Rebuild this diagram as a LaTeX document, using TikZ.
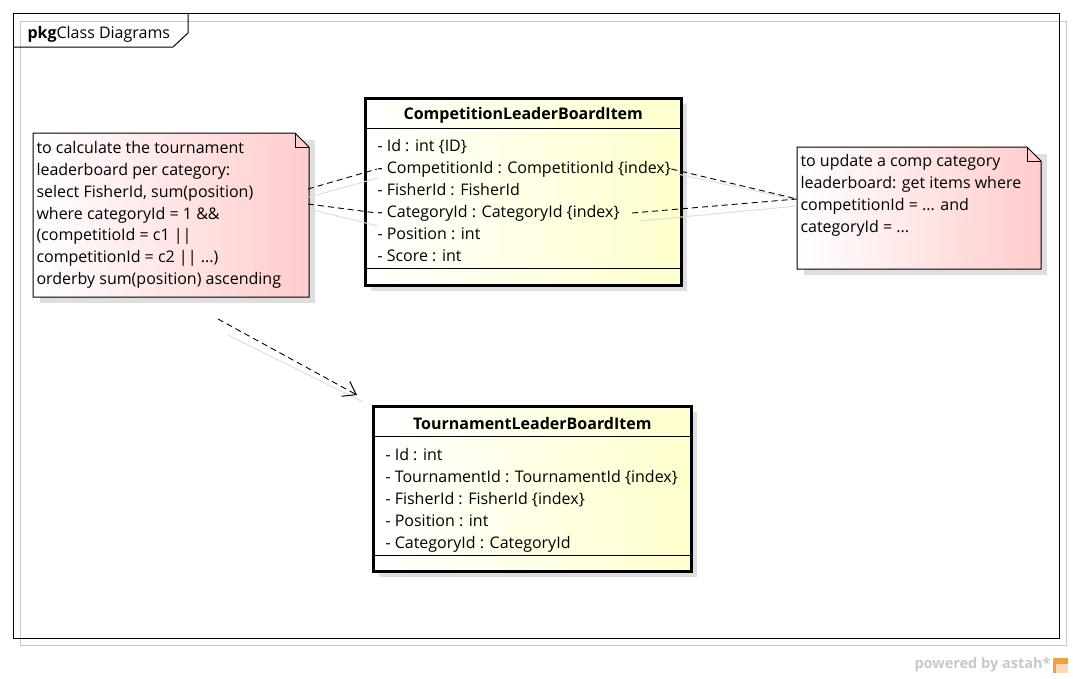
\documentclass[tikz,border=0pt]{standalone}
\usepackage{fontspec}
\setmainfont{Open Sans}
\usetikzlibrary{positioning,arrows.meta}
\definecolor{classyellow}{RGB}{255,255,204}
\definecolor{notepink}{RGB}{255,204,204}
\definecolor{shadowgray}{RGB}{222,222,222}
\definecolor{astahgray}{RGB}{200,200,200}
\definecolor{astahorange}{RGB}{240,160,60}
\tikzset{%
	classbox/.style   = {draw, line width=2.5pt, rectangle, anchor=north west, inner sep=0pt, left color=white, right color=classyellow},
	classname/.style  = {inner sep=0pt, font=\fontsize{16}{19}\selectfont\bfseries},
	attr/.style       = {anchor=west, inner sep=0pt, text height=11.5pt, text depth=3.5pt, font=\fontsize{16}{19}\selectfont},
	notebox/.style    = {rectangle, anchor=north west, inner sep=0pt},
	notetext/.style   = {anchor=north west, align=left, inner sep=0pt, font=\fontsize{16}{21.8}\selectfont},
	shadowbox/.style  = {fill=shadowgray},
	link/.style       = {draw, line width=0.9pt, dash pattern=on 6pt off 4pt}, % note link
	linkshadow/.style = {draw=shadowgray, line width=1pt}
}

\begin{document}
\begin{tikzpicture}[x=1pt, y=-1pt, line width=1pt]
	\useasboundingbox (0,0) rectangle (1073,678);

	% package frame
	\draw[astahgray, line width=0.8pt] (20,21) rectangle (1066,645);
	\draw (13,13) rectangle (1059,638);
	\draw (13,47) -- (173,47) -- (188,33) -- (188,13);
	\node[anchor=west, inner sep=0pt, font=\fontsize{16}{19}\selectfont] (pkglabel) at (27,34) {\textbf{pkg}Class Diagrams};

	% shadows
	\fill[shadowbox] (371,104) rectangle (687,291);
	\fill[shadowbox] (379,412) rectangle (697,577);
	\fill[shadowbox] (40,140) rectangle (315,303);
	\fill[shadowbox] (804,154) rectangle (1047,275);

	% class CompetitionLeaderBoardItem
	\node[classbox, minimum width=316pt, minimum height=187pt] (compitem) at (364,97) {};
	\node[classname] (compname) at ([yshift=-18pt]compitem.north) {CompetitionLeaderBoardItem};
	\draw (364,128) -- (680,128);
	\draw (364,268) -- (680,268);
	\node[attr] (idattr) at (377,147) {- Id : int \{ID\}};
	\node[attr] (compid) at ([yshift=-22pt]idattr.west) {- CompetitionId : CompetitionId \{index\}};
	\node[attr] (fishid) at ([yshift=-22pt]compid.west) {- FisherId : FisherId};
	\node[attr] (catid) at ([yshift=-22pt]fishid.west) {- CategoryId : CategoryId \{index\}};
	\node[attr] (posattr) at ([yshift=-22pt]catid.west) {- Position : int};
	\node[attr] (scoreattr) at ([yshift=-22pt]posattr.west) {- Score : int};

	% class TournamentLeaderBoardItem
	\node[classbox, minimum width=318pt, minimum height=165pt] (tournitem) at (372,405) {};
	\node[classname] (tournname) at ([yshift=-18pt]tournitem.north) {TournamentLeaderBoardItem};
	\draw (372,436) -- (690,436);
	\draw (372,555) -- (690,555);
	\node[attr] (tidattr) at (385,456) {- Id : int};
	\node[attr] (tournid) at ([yshift=-22pt]tidattr.west) {- TournamentId : TournamentId \{index\}};
	\node[attr] (tfishid) at ([yshift=-22pt]tournid.west) {- FisherId : FisherId \{index\}};
	\node[attr] (tposattr) at ([yshift=-22pt]tfishid.west) {- Position : int};
	\node[attr] (tcatid) at ([yshift=-22pt]tposattr.west) {- CategoryId : CategoryId};

	% note: tournament leaderboard
	\node[notebox, minimum width=275pt, minimum height=163pt] (calcnote) at (33,133) {};
	\shade[draw, left color=white, right color=notepink]
		(calcnote.north west) -- ([xshift=-14pt]calcnote.north east) -- ([yshift=-14pt]calcnote.north east)
		-- (calcnote.south east) -- (calcnote.south west) -- cycle;
	\draw ([xshift=-14pt]calcnote.north east) |- ([yshift=-14pt]calcnote.north east);
	\node[notetext] (calctext) at (36,141) {to calculate the tournament\\leaderboard per category:\\select FisherId, sum(position)\\where categoryId = 1 \&\&\\(competitioId = c1 ||\\competitionId = c2 || ...)\\orderby sum(position) ascending};

	% note: comp category leaderboard
	\node[notebox, minimum width=243pt, minimum height=121pt] (updnote) at (797,147) {};
	\shade[draw, left color=white, right color=notepink]
		(updnote.north west) -- ([xshift=-14pt]updnote.north east) -- ([yshift=-14pt]updnote.north east)
		-- (updnote.south east) -- (updnote.south west) -- cycle;
	\draw ([xshift=-14pt]updnote.north east) |- ([yshift=-14pt]updnote.north east);
	\node[notetext] (updtext) at (800,154) {to update a comp category\\leaderboard: get items where\\competitionId = ... and\\categoryId = ...};

	% link end points
	\coordinate (calcA) at (308,189);
	\coordinate (calcB) at (308,204);
	\coordinate (updA) at (797,199);
	\coordinate (depA) at (218,319);
	\coordinate (depB) at (357,395);

	% link shadows
	\draw[linkshadow] ([shift={(1,8)}]calcA) -- ([shift={(1,9)}]compid.west);
	\draw[linkshadow] ([shift={(5,6)}]calcB) -- ([shift={(1,13)}]catid.west);
	\draw[linkshadow] ([shift={(6,5)}]compid.east) -- ([shift={(0,1)}]updA);
	\draw[linkshadow] ([shift={(19,8)}]catid.east) -- ([shift={(0,7)}]updA);
	\draw[linkshadow] ([shift={(10,16)}]depA) -- ([shift={(6,7)}]depB);

	% links
	\draw[link] (calcA) -- (compid.west);
	\draw[link] (calcB) -- (catid.west);
	\draw[link] (compid.east) -- (updA);
	\draw[link] ([xshift=12pt]catid.east) -- (updA);
	\draw[link, -{Straight Barb[length=12pt, width=17pt, line width=1pt]}] (depA) -- (depB);

	% watermark
	\node[anchor=east, inner sep=0pt, text=astahgray, font=\fontsize{14.5}{17}\selectfont\bfseries] (poweredby) at (1051,665) {powered by astah*};
	\fill[astahorange] (1053,658) rectangle (1068,673);
	\fill[white!60!astahorange] (1056,664) rectangle (1068,673);
\end{tikzpicture}
\end{document}
